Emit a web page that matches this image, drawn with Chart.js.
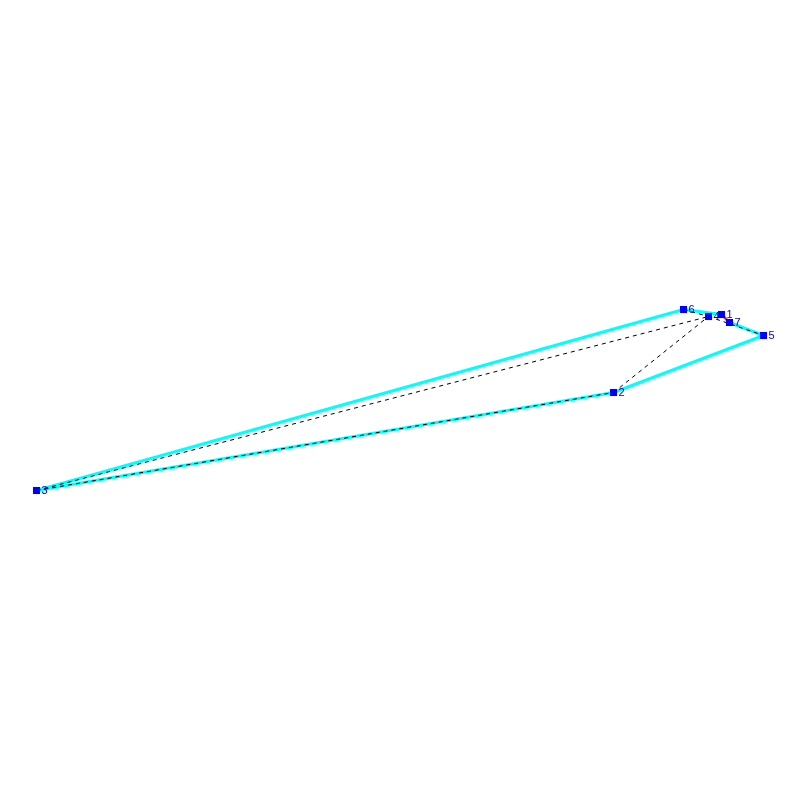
<!DOCTYPE html>
<html>
<head>
<meta charset="utf-8">
<style>
html, body { margin: 0; padding: 0; background: #fff; }
#wrap { width: 800px; height: 800px; }
canvas { display: block; }
</style>
<script src="https://cdn.jsdelivr.net/npm/chart.js@4"></script>
</head>
<body>
<div id="wrap"><canvas id="chart" width="800" height="800"></canvas></div>
<script>
// node positions
const nodeLabels = ['1', '2', '3', '4', '5', '6', '7']
const nodeX = [721.5, 613.5, 36.5, 708.5, 763.5, 683.5, 729.5]
const nodeY = [314.5, 392.5, 490.5, 316.5, 335.5, 309.5, 322.5]

// edges as node numbers
const cyanFrom = [6, 1, 7, 5, 2, 3]
const cyanTo = [1, 7, 5, 2, 3, 6]
const dashFrom = [2, 3, 3, 6, 4]
const dashTo = [4, 2, 4, 4, 5]
const redFrom = [1]
const redTo = [7]

function edgeData(a, b) {
    return [
        { x: nodeX[a - 1], y: nodeY[a - 1] },
        { x: nodeX[b - 1], y: nodeY[b - 1] }
    ]
}

const datasets = []
cyanFrom.forEach((a, i) => {
    datasets.push({
        data: edgeData(a, cyanTo[i]),
        borderColor: '#00ffff',
        borderWidth: 3,
        pointRadius: 0,
        order: 4
    })
})
redFrom.forEach((a, i) => {
    datasets.push({
        data: edgeData(a, redTo[i]),
        borderColor: '#ff0000',
        borderWidth: 2,
        pointRadius: 0,
        order: 3
    })
})
dashFrom.forEach((a, i) => {
    datasets.push({
        data: edgeData(a, dashTo[i]),
        borderColor: '#000000',
        borderWidth: 1,
        borderDash: [4, 4],
        pointRadius: 0,
        order: 2
    })
})
datasets.push({
    data: nodeX.map((x, i) => ({ x: x, y: nodeY[i] })),
    showLine: false,
    pointStyle: 'rect',
    pointRadius: 5,
    pointBackgroundColor: '#0000ff',
    pointBorderWidth: 0,
    order: 1
})

// node numbers next to the squares
const nodeText = {
    id: 'nodeText',
    afterDatasetsDraw(c) {
        const ctx = c.ctx
        ctx.save()
        ctx.font = '11px "Liberation Sans"'
        ctx.fillStyle = '#0000cc'
        ctx.textBaseline = 'middle'
        nodeLabels.forEach((t, i) => {
            ctx.fillText(t, c.scales.x.getPixelForValue(nodeX[i]) + 5, c.scales.y.getPixelForValue(nodeY[i]))
        })
        ctx.restore()
    }
}

new Chart(document.querySelector('#chart').getContext('2d'), {
    type: 'line',
    data: { datasets: datasets },
    plugins: [nodeText],
    options: {
        responsive: false,
        animation: false,
        layout: { padding: 0, autoPadding: false },
        plugins: { legend: { display: false }, tooltip: { enabled: false } },
        scales: {
            x: { type: 'linear', display: false, min: 0, max: 800 },
            y: { type: 'linear', display: false, min: 0, max: 800, reverse: true }
        }
    }
})
</script>
</body>
</html>
